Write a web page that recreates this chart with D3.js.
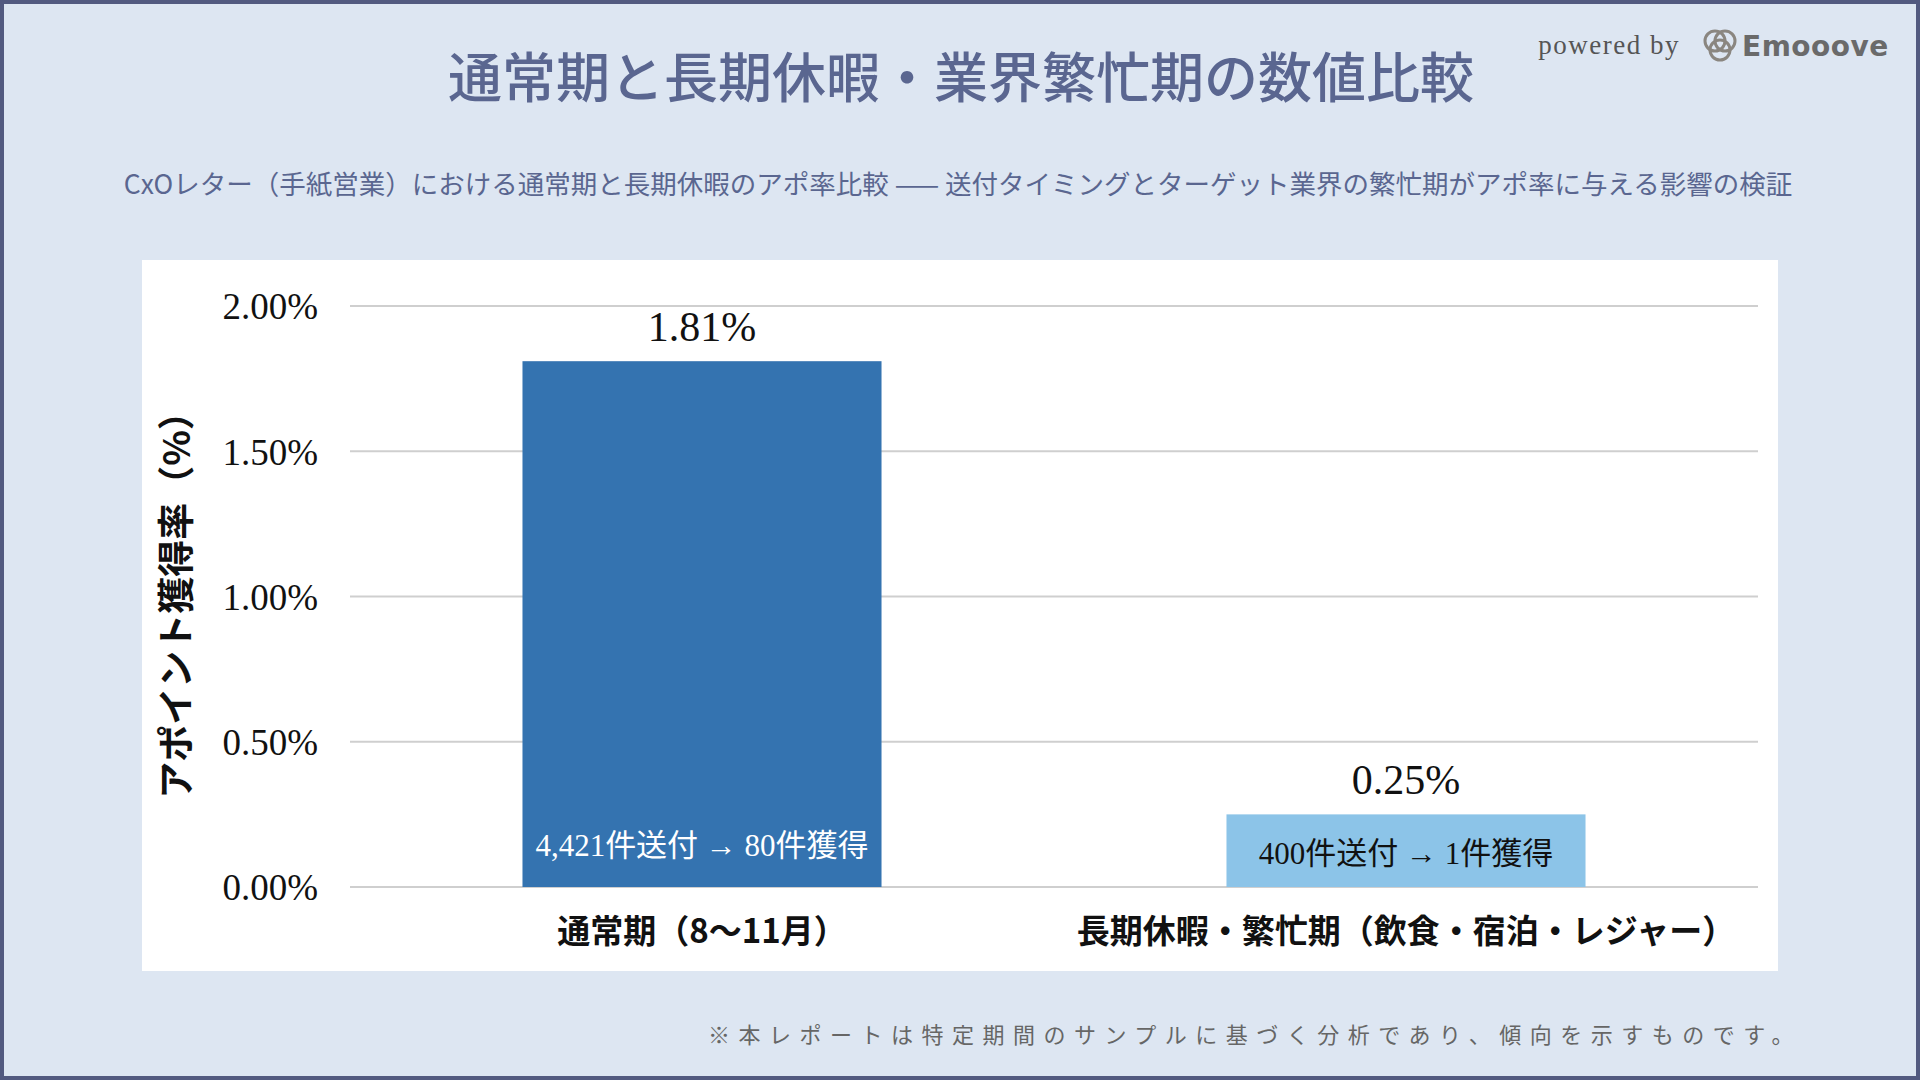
<!DOCTYPE html>
<html><head><meta charset="utf-8">
<script src="https://cdn.jsdelivr.net/npm/d3@7"></script>
<style>body{margin:0;}svg{display:block}</style>
</head><body>
<script>
const categories=["通常期（8〜11月）","長期休暇・繁忙期（飲食・宿泊・レジャー）"];
const rates=[1.81,0.25];
const innerLabels=["4,421件送付 → 80件獲得","400件送付 → 1件獲得"];
const ticks=[0,0.5,1.0,1.5,2.0];
const colors=["#3473b0","#8cc4e8"];
const serif="'Liberation Serif','Noto Sans CJK JP',serif";
const jp="'Noto Sans CJK JP',sans-serif";
const W=1920,H=1080;
const svg=d3.select("body").append("svg").attr("width",W).attr("height",H);
svg.append("rect").attr("x",2).attr("y",2).attr("width",W-4).attr("height",H-4).attr("fill","#dde6f2").attr("stroke","#525a80").attr("stroke-width",4);
svg.append("text").attr("x",961).attr("y",98).attr("text-anchor","middle").attr("font-family",jp).attr("font-size",54).attr("font-weight",500).attr("fill","#5a6690").text("通常期と長期休暇・業界繁忙期の数値比較");
svg.append("text").attr("x",958).attr("y",194).attr("text-anchor","middle").attr("font-family",jp).attr("font-size",26.5).attr("fill","#5a6690").text("CxOレター（手紙営業）における通常期と長期休暇のアポ率比較 —— 送付タイミングとターゲット業界の繁忙期がアポ率に与える影響の検証");
svg.append("text").attr("x",1680).attr("y",54).attr("text-anchor","end").attr("font-family",serif).attr("font-size",27).attr("letter-spacing",1.5).attr("fill","#555").text("powered by");
const lg=svg.append("g").attr("transform","translate(1720,45)");
[[-5,-4],[5,-4],[0,5]].forEach(([dx,dy])=>lg.append("circle").attr("cx",dx).attr("cy",dy).attr("r",10).attr("fill","none").attr("stroke","#8a8680").attr("stroke-width",3));
svg.append("text").attr("x",1742).attr("y",56).attr("font-family","'DejaVu Sans',sans-serif").attr("font-weight","bold").attr("font-size",28).attr("fill","#6a6a6a").attr("letter-spacing",0.5).text("Emooove");
svg.append("rect").attr("x",142).attr("y",260).attr("width",1636).attr("height",711).attr("fill","#fff");
const x=d3.scaleBand().domain(categories).range([350,1758]).padding(0);
const bw=x.bandwidth()*0.51;
const bx=i=>x(categories[i])+(x.bandwidth()-bw)/2;
const y=d3.scaleLinear().domain([0,2]).range([887,306]);
const g=svg.append("g");
g.selectAll(".grid").data(ticks).join("line").attr("x1",350).attr("x2",1758).attr("y1",d=>y(d)).attr("y2",d=>y(d)).attr("stroke","#cfcfcf").attr("stroke-width",2);
const ya=svg.append("g").attr("transform","translate(321,0)").call(d3.axisLeft(y).tickValues(ticks).tickFormat(d=>d.toFixed(2)+"%").tickSize(0));
ya.select(".domain").remove();
ya.selectAll("text").attr("font-family",serif).attr("font-size",37).attr("fill","#111").attr("dx",0).attr("dy","0.35em");
svg.selectAll(".bar").data(rates).join("rect").attr("x",(d,i)=>bx(i)).attr("width",bw).attr("y",d=>y(d)).attr("height",d=>y(0)-y(d)).attr("fill",(d,i)=>colors[i]);
svg.selectAll(".vl").data(rates).join("text").attr("x",(d,i)=>bx(i)+bw/2).attr("y",d=>y(d)-20).attr("text-anchor","middle").attr("font-family",serif).attr("font-size",42).attr("fill","#111").text(d=>d.toFixed(2)+"%");
svg.selectAll(".il").data(rates).join("text").attr("x",(d,i)=>bx(i)+bw/2).attr("y",(d,i)=>i==0?856:864).attr("text-anchor","middle").attr("font-family",serif).attr("font-size",31).attr("fill",(d,i)=>i==0?"#fff":"#111").text((d,i)=>innerLabels[i]);
const xa=svg.append("g").attr("transform","translate(0,887)").call(d3.axisBottom(x).tickSize(0));
xa.select(".domain").remove();
xa.selectAll("text").attr("font-family",jp).attr("font-size",33).attr("font-weight",700).attr("fill","#111").attr("dy",0).attr("y",56);
svg.append("text").attr("transform","translate(190,596) rotate(-90)").attr("text-anchor","middle").attr("font-family",jp).attr("font-size",37).attr("font-weight",700).attr("fill","#111").text("アポイント獲得率（%）");
svg.append("text").attr("x",1802).attr("y",1043).attr("text-anchor","end").attr("font-family",jp).attr("font-size",22).attr("letter-spacing",8.5).attr("fill","#666").text("※本レポートは特定期間のサンプルに基づく分析であり、傾向を示すものです。");
</script>
</body></html>
